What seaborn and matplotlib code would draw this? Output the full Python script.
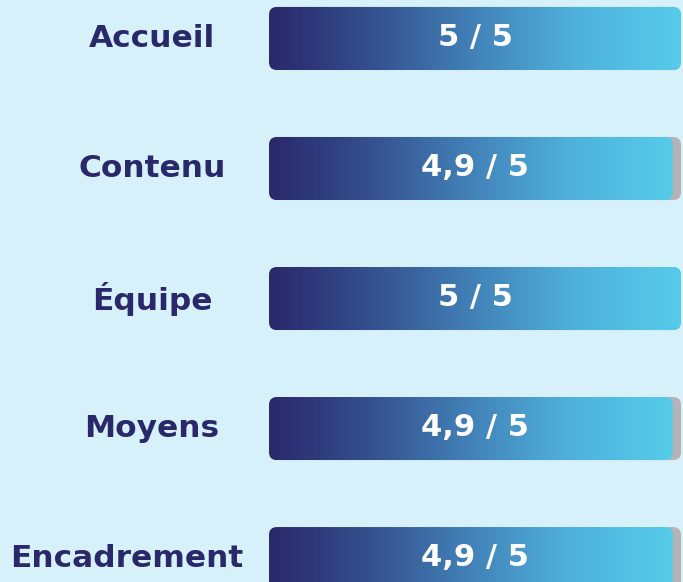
import numpy as np
import pandas as pd
import seaborn as sns
import matplotlib.pyplot as plt
from matplotlib.colors import LinearSegmentedColormap
from matplotlib.patches import FancyBboxPatch

# data
categories = ["Accueil", "Contenu", "Équipe", "Moyens", "Encadrement"]
scores = [5, 4.9, 5, 4.9, 4.9]
max_score = 5
value_labels = [f"{s:g}".replace(".", ",") + f" / {max_score}" for s in scores]

df = pd.DataFrame({"critere": categories, "note": scores, "max": max_score})

sns.set_theme(style="white")
plt.rcParams["font.family"] = ["DejaVu Sans"]

bg = "#d6f1fa"
navy = "#29286a"
track_color = "#b3b3b8"
grad = LinearSegmentedColormap.from_list(
    "grad", ["#29286a", "#35508e", "#4282b8", "#4fb2dd", "#56cbea"]
)

fig = plt.figure(figsize=(6.83, 5.82), dpi=100, facecolor=bg)
ax = fig.add_axes([0, 0, 1, 1])
ax.set_facecolor(bg)

bar_w = 0.485
sns.barplot(data=df, x="max", y="critere", color=track_color, width=bar_w,
            errorbar=None, ax=ax)
n_track = len(ax.patches)
sns.barplot(data=df, x="note", y="critere", color=navy, width=bar_w,
            errorbar=None, ax=ax)

xlim = (-3.265, 5.024)
ylim = (4.18, -0.296)

# pixel scale for round corners
px_x = 683 / (xlim[1] - xlim[0])
px_y = 582 / (ylim[0] - ylim[1])
radius = 8 / px_x
aspect = px_x / px_y

grad_img = np.linspace(0, 1, 256).reshape(1, -1)
for k, p in enumerate(list(ax.patches)):
    x0, y0, w, h = p.get_x(), p.get_y(), p.get_width(), p.get_height()
    p.set_visible(False)
    if k < n_track:
        rb = FancyBboxPatch((x0, y0), w, h,
                            boxstyle=f"round,pad=0,rounding_size={radius}",
                            mutation_aspect=aspect, facecolor=track_color,
                            edgecolor="none", zorder=1)
        ax.add_patch(rb)
    else:
        rb = FancyBboxPatch((x0, y0), w, h,
                            boxstyle=f"round,pad=0,rounding_size={radius}",
                            mutation_aspect=aspect, facecolor="none",
                            edgecolor="none", zorder=2)
        ax.add_patch(rb)
        im = ax.imshow(grad_img, cmap=grad, aspect="auto",
                       extent=[x0, x0 + w, y0 + h, y0], zorder=2)
        im.set_clip_path(rb)

ax.set_xlim(*xlim)
ax.set_ylim(*ylim)
ax.axis("off")

label_x = (152 - 269) / px_x
labels = []
for i, cat in enumerate(categories):
    t = ax.text(label_x, i, cat, ha="center", va="center", fontsize=22.5,
                fontweight="bold", color=navy, zorder=3)
    labels.append(t)

for i, lab in enumerate(value_labels):
    ax.text(max_score / 2, i - 0.01, lab, ha="center", va="center", fontsize=22,
            fontweight="bold", color="white", zorder=3)

# long labels: push them to the left margin so they clear the bars
fig.canvas.draw()
renderer = fig.canvas.get_renderer()
for t in labels:
    bb = t.get_window_extent(renderer)
    if bb.x1 > 245:
        t.set_ha("left")
        t.set_x(ax.transData.inverted().transform((10, 0))[0])

fig.savefig("out.png", dpi=100, facecolor=bg)
